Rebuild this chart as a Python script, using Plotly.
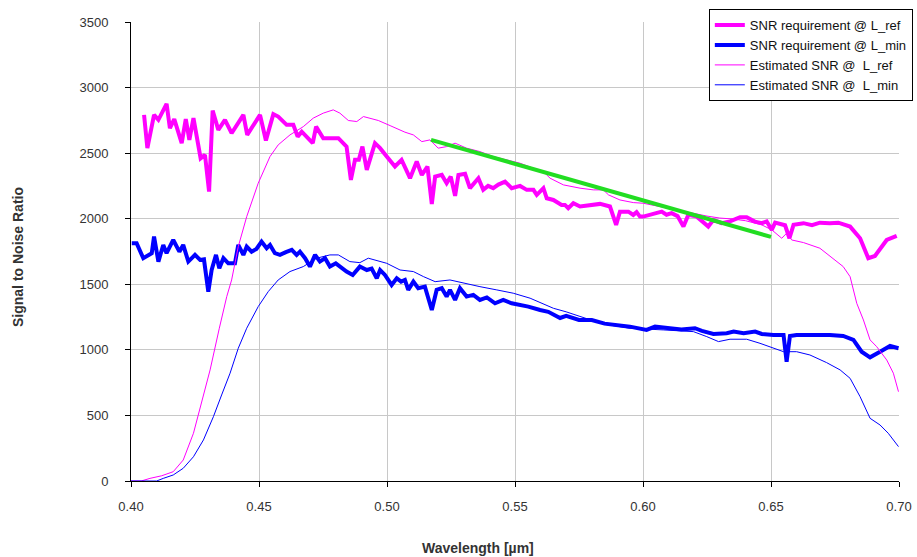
import plotly.graph_objects as go

# ---- data ----
req_ref_wl = [0.4051,0.4064,0.4090,0.4107,0.4139,0.4152,0.4169,0.4198,0.4214,0.4228,0.4244,0.4272,0.4289,0.4305,0.4319,0.4341,0.4367,0.4393,0.4439,0.4454,0.4504,0.4527,0.4556,0.4575,0.4608,0.4634,0.4651,0.4667,0.4710,0.4723,0.4751,0.4810,0.4842,0.4859,0.4875,0.4890,0.4904,0.4921,0.4953,0.4973,0.4999,0.5031,0.5057,0.5090,0.5116,0.5136,0.5158,0.5175,0.5188,0.5214,0.5233,0.5249,0.5266,0.5279,0.5305,0.5324,0.5357,0.5376,0.5395,0.5415,0.5435,0.5461,0.5487,0.5520,0.5546,0.5572,0.5585,0.5611,0.5624,0.5650,0.5682,0.5695,0.5708,0.5728,0.5754,0.5806,0.5832,0.5871,0.5895,0.5910,0.5943,0.5962,0.5975,0.5988,0.6001,0.6073,0.6092,0.6112,0.6135,0.6158,0.6177,0.6210,0.6255,0.6275,0.6307,0.6340,0.6379,0.6405,0.6437,0.6464,0.6483,0.6503,0.6516,0.6555,0.6572,0.6588,0.6627,0.6660,0.6691,0.6730,0.6763,0.6809,0.6848,0.6880,0.6906,0.6952,0.6991]
req_ref = [2792,2538,2792,2754,2876,2690,2759,2576,2759,2601,2767,2461,2487,2207,2825,2677,2754,2652,2792,2639,2792,2596,2797,2779,2716,2716,2626,2664,2576,2702,2614,2614,2550,2296,2449,2449,2550,2372,2576,2538,2474,2398,2449,2309,2436,2334,2398,2113,2321,2334,2271,2321,2174,2334,2342,2233,2309,2220,2250,2233,2260,2283,2233,2250,2220,2220,2182,2233,2156,2143,2105,2105,2080,2118,2093,2105,2113,2093,1953,2054,2054,2029,2050,2016,2016,2054,2030,2042,2020,1940,2029,2016,1940,1991,1966,1980,2011,2011,1978,1966,1980,1915,1970,1950,1851,1953,1966,1950,1970,1966,1970,1940,1851,1699,1716,1838,1869]

req_min_wl = [0.4003,0.4022,0.4048,0.4081,0.4090,0.4107,0.4126,0.4139,0.4165,0.4189,0.4204,0.4224,0.4250,0.4270,0.4285,0.4302,0.4315,0.4332,0.4345,0.4361,0.4380,0.4406,0.4419,0.4439,0.4452,0.4471,0.4490,0.4510,0.4530,0.4543,0.4562,0.4582,0.4605,0.4628,0.4647,0.4660,0.4680,0.4699,0.4719,0.4738,0.4758,0.4777,0.4800,0.4823,0.4842,0.4866,0.4894,0.4921,0.4940,0.4960,0.4973,0.4992,0.5018,0.5038,0.5055,0.5070,0.5083,0.5103,0.5122,0.5148,0.5175,0.5194,0.5214,0.5233,0.5246,0.5266,0.5285,0.5311,0.5337,0.5363,0.5390,0.5422,0.5454,0.5487,0.5520,0.5552,0.5598,0.5630,0.5676,0.5700,0.5750,0.5800,0.5850,0.5900,0.5949,0.6014,0.6047,0.6105,0.6150,0.6203,0.6230,0.6275,0.6327,0.6354,0.6393,0.6438,0.6464,0.6510,0.6549,0.6561,0.6574,0.6600,0.6652,0.6730,0.6782,0.6822,0.6854,0.6887,0.6926,0.6965,0.6998]
req_min = [1813,1813,1699,1737,1864,1673,1800,1737,1838,1749,1800,1673,1724,1686,1690,1444,1609,1724,1622,1699,1660,1660,1800,1724,1787,1749,1770,1826,1775,1800,1737,1724,1745,1762,1724,1749,1699,1635,1724,1673,1699,1635,1660,1622,1597,1571,1635,1609,1620,1546,1609,1571,1495,1546,1520,1533,1457,1520,1470,1482,1304,1457,1470,1406,1457,1381,1470,1406,1419,1381,1400,1355,1381,1355,1345,1330,1304,1290,1243,1260,1228,1228,1200,1190,1177,1152,1177,1165,1155,1165,1145,1121,1127,1139,1127,1139,1121,1114,1114,910,1106,1114,1114,1114,1106,1076,986,943,986,1030,1012]

est_ref_wl = [0.4000,0.4040,0.4074,0.4120,0.4165,0.4204,0.4244,0.4276,0.4309,0.4345,0.4374,0.4393,0.4419,0.4452,0.4497,0.4543,0.4575,0.4621,0.4673,0.4712,0.4751,0.4790,0.4816,0.4849,0.4882,0.4908,0.4940,0.4966,0.5012,0.5051,0.5070,0.5103,0.5136,0.5168,0.5200,0.5233,0.5266,0.5311,0.5363,0.5415,0.5467,0.5520,0.5572,0.5611,0.5637,0.5689,0.5754,0.5806,0.5845,0.5865,0.5910,0.5962,0.6001,0.6050,0.6100,0.6150,0.6200,0.6250,0.6300,0.6350,0.6400,0.6464,0.6503,0.6542,0.6561,0.6581,0.6627,0.6691,0.6743,0.6782,0.6809,0.6835,0.6861,0.6887,0.6913,0.6952,0.6978,0.6998]
est_ref = [0,0,20,40,71,160,364,593,847,1165,1406,1533,1787,2016,2271,2474,2563,2639,2702,2767,2805,2830,2805,2749,2741,2779,2765,2749,2710,2677,2660,2639,2588,2601,2538,2550,2576,2538,2512,2474,2449,2423,2385,2359,2309,2258,2233,2220,2220,2182,2143,2123,2118,2100,2080,2060,2040,2020,2005,1998,1985,1953,1915,1851,1889,1838,1818,1775,1699,1635,1558,1355,1228,1076,1024,923,822,681]

est_min_wl = [0.4000,0.4100,0.4126,0.4165,0.4204,0.4244,0.4283,0.4322,0.4354,0.4387,0.4419,0.4452,0.4497,0.4536,0.4575,0.4621,0.4673,0.4725,0.4777,0.4810,0.4855,0.4894,0.4927,0.4960,0.4999,0.5051,0.5103,0.5142,0.5188,0.5246,0.5298,0.5363,0.5429,0.5493,0.5559,0.5624,0.5650,0.5700,0.5750,0.5800,0.5850,0.5900,0.5949,0.6079,0.6197,0.6249,0.6295,0.6340,0.6405,0.6457,0.6510,0.6549,0.6600,0.6652,0.6717,0.6770,0.6809,0.6848,0.6887,0.6926,0.6958,0.6998]
est_min = [0,0,20,46,97,185,313,491,656,822,1012,1165,1330,1444,1533,1597,1635,1699,1724,1724,1673,1665,1699,1680,1660,1609,1597,1559,1520,1533,1508,1482,1457,1432,1394,1343,1317,1290,1255,1225,1195,1180,1165,1152,1139,1101,1063,1081,1081,1050,1012,986,986,961,903,847,783,643,478,427,364,262]

trend_wl = [0.5172, 0.6500]
trend = [2601, 1861]

x_ticks = [0.40, 0.45, 0.50, 0.55, 0.60, 0.65, 0.70]
y_ticks = [0, 500, 1000, 1500, 2000, 2500, 3000, 3500]

MAG = "#ff00ff"
BLU = "#0000ff"
FONT = "Liberation Sans, Arial, sans-serif"

fig = go.Figure()
fig.add_trace(go.Scatter(x=req_ref_wl, y=req_ref, mode="lines", name="SNR requirement @ L_ref",
                         line=dict(color=MAG, width=4)))
fig.add_trace(go.Scatter(x=req_min_wl, y=req_min, mode="lines", name="SNR requirement @ L_min",
                         line=dict(color=BLU, width=4)))
fig.add_trace(go.Scatter(x=est_ref_wl, y=est_ref, mode="lines", name="Estimated SNR @\u00a0 L_ref",
                         line=dict(color=MAG, width=1)))
fig.add_trace(go.Scatter(x=est_min_wl, y=est_min, mode="lines", name="Estimated SNR @\u00a0 L_min",
                         line=dict(color=BLU, width=1)))
fig.add_trace(go.Scatter(x=trend_wl, y=trend, mode="lines", showlegend=False,
                         line=dict(color="#22dd22", width=4)))

fig.update_layout(
    width=917, height=557,
    margin=dict(l=131, r=18, t=22, b=76, autoexpand=False),
    paper_bgcolor="white", plot_bgcolor="white",
    font=dict(family=FONT, size=13, color="#333333"),
    showlegend=True,
    legend=dict(x=1.018, xanchor="right", y=1.028, yanchor="top",
                bgcolor="white", bordercolor="black", borderwidth=1,
                font=dict(family=FONT, size=13, color="#111111"),
                tracegroupgap=0, itemwidth=30),
    xaxis=dict(range=[0.40, 0.70], tickvals=x_ticks, tickformat=".2f",
               showgrid=True, gridcolor="#c8c8c8", gridwidth=1,
               showline=True, linecolor="black", linewidth=1,
               ticks="outside", ticklen=5, tickcolor="black",
               ticklabelstandoff=8, zeroline=False),
    yaxis=dict(range=[0, 3500], tickvals=y_ticks,
               showgrid=True, gridcolor="#c8c8c8", gridwidth=1,
               showline=True, linecolor="black", linewidth=1,
               ticks="outside", ticklen=5, tickcolor="black",
               ticklabelstandoff=14, zeroline=False),
    annotations=[
        dict(text="<b>Wavelength [µm]</b>", xref="paper", yref="paper",
             x=(478 - 131) / 768, y=-(548 - 481) / 459, xanchor="center", yanchor="middle",
             showarrow=False, font=dict(family=FONT, size=14, color="#333333")),
        dict(text="<b>Signal to Noise Ratio</b>", xref="paper", yref="paper",
             x=(18 - 131) / 768, y=(481 - 257) / 459, xanchor="center", yanchor="middle",
             textangle=-90, showarrow=False, font=dict(family=FONT, size=14, color="#333333")),
    ],
)

fig.write_html("out.html")
